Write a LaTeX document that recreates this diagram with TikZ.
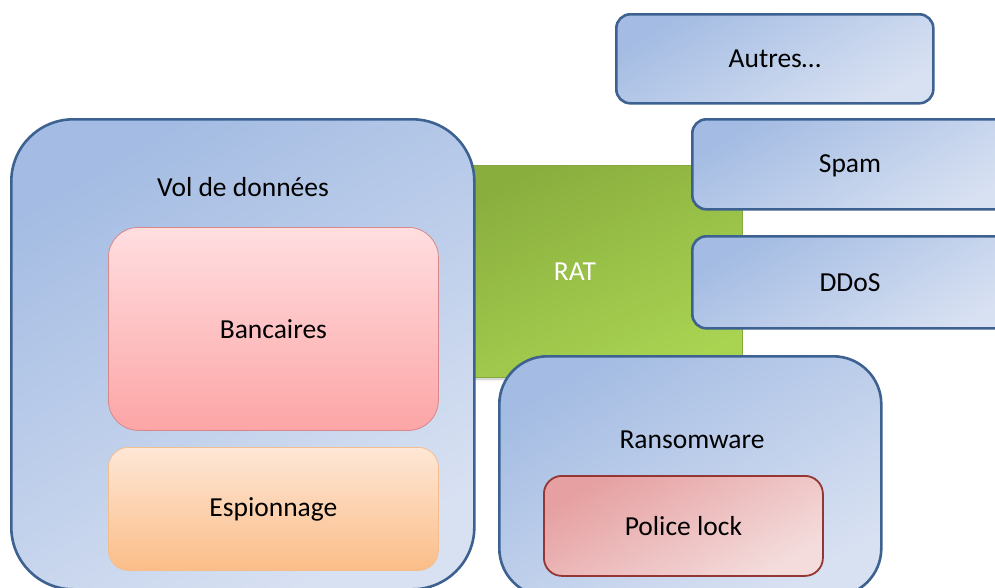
\documentclass[tikz,border=0pt]{standalone}
\usepackage{fontspec}
\setmainfont{Carlito}
\usetikzlibrary{shadows}
\definecolor{blueA}{HTML}{A4BCE3}
\definecolor{blueB}{HTML}{D8E1F2}
\definecolor{blueLine}{HTML}{3D6291}
\definecolor{greenA}{HTML}{8AAE3E}
\definecolor{greenB}{HTML}{A9D452}
\definecolor{greenLine}{HTML}{84A83F}
\definecolor{pinkA}{HTML}{FFDEE0}
\definecolor{pinkB}{HTML}{FCA5A6}
\definecolor{pinkLine}{HTML}{D6888A}
\definecolor{orA}{HTML}{FEE7D6}
\definecolor{orB}{HTML}{FBBD88}
\definecolor{orLine}{HTML}{F3BE8E}
\definecolor{polA}{HTML}{E6A0A1}
\definecolor{polB}{HTML}{F4DCDC}
\definecolor{polLine}{HTML}{943634}
\tikzset{
  box/.style={draw, anchor=north west, inner sep=0pt, font=\fontsize{27.5}{32}\selectfont},
  bluebox/.style={box, draw=blueLine, line width=2.6pt, top color=blueA, bottom color=blueB, shading angle=30},
  lbl/.style={inner sep=0pt, font=\fontsize{27.5}{32}\selectfont},
}
\begin{document}
\begin{tikzpicture}[x=1pt,y=-1pt]
\useasboundingbox (0,0) rectangle (995,587);
\clip (0,0) rectangle (995,587);
% RAT (behind)
\node[box, draw=greenLine, line width=0.8pt, top color=greenA, bottom color=greenB, shading angle=25,
  rounded corners=5pt, minimum width=290pt, minimum height=212pt, text=white,
  drop shadow={shadow xshift=-3pt, shadow yshift=-3pt, opacity=0.3}] (rat) at (452,165) {};
\node[lbl, text=white] (ratl) at (575,272) {RAT};
% Vol de donnees
\node[bluebox, rounded corners=62pt, minimum width=463pt, minimum height=470pt] (vol) at (10,118) {};
\node[lbl] (voll) at (243,187) {Vol de données};
\node[box, draw=pinkLine, line width=0.8pt, top color=pinkA, bottom color=pinkB,
  rounded corners=30pt, minimum width=330pt, minimum height=203pt] (banc) at (108,227) {Bancaires};
\node[box, draw=orLine, line width=0.8pt, top color=orA, bottom color=orB,
  rounded corners=20pt, minimum width=330pt, minimum height=123pt] (esp) at (108,447) {Espionnage};
% right boxes
\node[bluebox, rounded corners=14pt, minimum width=317pt, minimum height=89pt] (autres) at (615,13) {Autres…};
\node[bluebox, rounded corners=14pt, minimum width=330pt, minimum height=90pt] (spam) at (691,118) {};
\node[lbl] (spaml) at (850,166) {Spam};
\node[bluebox, rounded corners=14pt, minimum width=330pt, minimum height=92pt] (ddos) at (691,235) {};
\node[lbl] (ddosl) at (850,283) {DDoS};
% Ransomware
\node[bluebox, rounded corners=48pt, minimum width=382pt, minimum height=240pt] (rans) at (498,355) {};
\node[lbl] (ransl) at (692,440) {Ransomware};
\node[box, draw=polLine, line width=1.8pt, top color=polA, bottom color=polB, shading angle=30,
  rounded corners=18pt, minimum width=279pt, minimum height=100pt] (pol) at (543,475) {Police lock};
\end{tikzpicture}
\end{document}
